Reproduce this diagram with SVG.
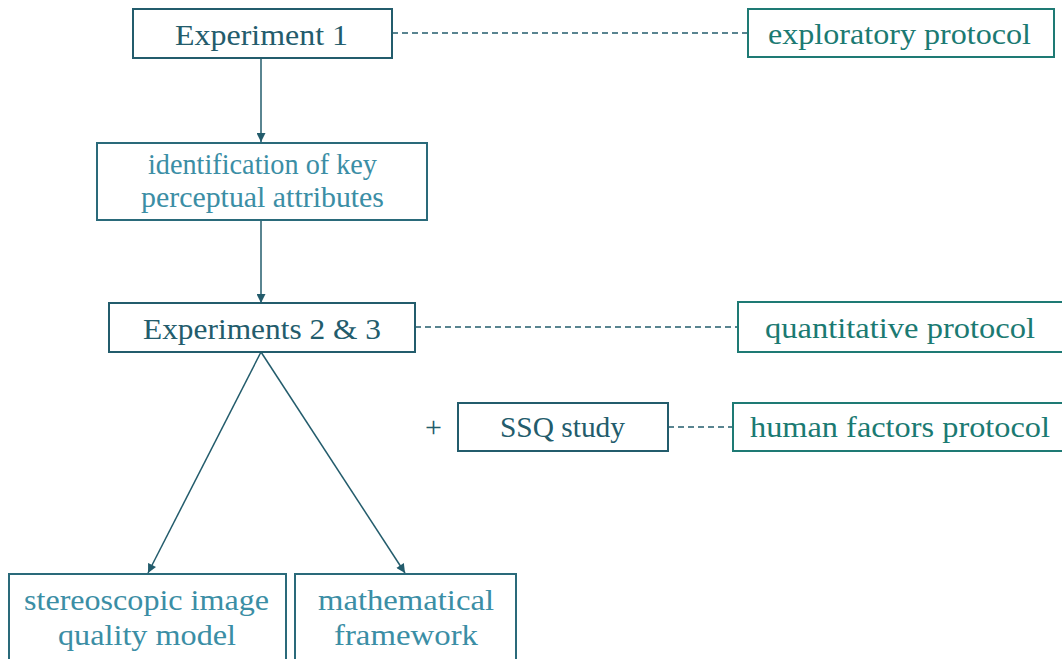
<svg xmlns="http://www.w3.org/2000/svg" width="1062" height="659" viewBox="0 0 1062 659">
<style>
text{font-family:"Liberation Serif","Times New Roman",serif;font-size:30px;text-anchor:middle}
.main rect{fill:#fff;stroke:#235C6C;stroke-width:2}
.main text{fill:#235C6C}
.light rect{fill:#fff;stroke:#2A6A7A;stroke-width:2}
.light text{fill:#3B8EA5}
.proto rect{fill:#fff;stroke:#1E7A74;stroke-width:2}
.proto text{fill:#1B7A72}
.conn line{stroke:#235C6C;stroke-width:1.5;fill:none}
.conn .dash{stroke-dasharray:6 4}
</style>
<defs>
<marker id="ah" viewBox="0 0 10 10" refX="10" refY="5" markerWidth="10" markerHeight="9" markerUnits="userSpaceOnUse" orient="auto">
<path d="M0,0 L10,5 L0,10 z" fill="#235C6C"/>
</marker>
</defs>
<rect width="1062" height="659" fill="#fff"/>
<g id="connectors" class="conn">
<line class="dash" x1="392" y1="33" x2="748" y2="33"/>
<line x1="261" y1="58" x2="261" y2="142" marker-end="url(#ah)"/>
<line x1="261" y1="221" x2="261" y2="303" marker-end="url(#ah)"/>
<line class="dash" x1="415" y1="327" x2="738" y2="327"/>
<line class="dash" x1="668" y1="427" x2="733" y2="427"/>
<line x1="261" y1="352" x2="148" y2="573" marker-end="url(#ah)"/>
<line x1="261" y1="352" x2="405" y2="573" marker-end="url(#ah)"/>
</g>
<g id="exp1" class="main">
<rect x="133" y="9" width="259" height="49"/>
<text x="261.5" y="45" textLength="173" lengthAdjust="spacingAndGlyphs">Experiment 1</text>
</g>
<g id="exploratory" class="proto">
<rect x="748" y="9" width="306" height="48"/>
<text x="899.5" y="44" textLength="263" lengthAdjust="spacingAndGlyphs">exploratory protocol</text>
</g>
<g id="identification" class="light">
<rect x="97" y="143" width="330" height="77"/>
<text x="262.5" y="174" textLength="229" lengthAdjust="spacingAndGlyphs">identification of key</text>
<text x="262.5" y="207" textLength="243" lengthAdjust="spacingAndGlyphs">perceptual attributes</text>
</g>
<g id="exp23" class="main">
<rect x="109" y="303" width="306" height="49"/>
<text x="262" y="339" textLength="238" lengthAdjust="spacingAndGlyphs">Experiments 2 &amp; 3</text>
</g>
<g id="quantitative" class="proto">
<rect x="738" y="302" width="330" height="50"/>
<text x="900" y="338" textLength="270" lengthAdjust="spacingAndGlyphs">quantitative protocol</text>
</g>
<g id="plus" class="main">
<text x="433.5" y="437">+</text>
</g>
<g id="ssq" class="main">
<rect x="458" y="403" width="210" height="48"/>
<text x="562.5" y="437" textLength="125" lengthAdjust="spacingAndGlyphs">SSQ study</text>
</g>
<g id="humanfactors" class="proto">
<rect x="733" y="403" width="335" height="48"/>
<text x="900" y="437" textLength="300" lengthAdjust="spacingAndGlyphs">human factors protocol</text>
</g>
<g id="stereo" class="light">
<rect x="9" y="574" width="277" height="100"/>
<text x="146.5" y="610" textLength="245" lengthAdjust="spacingAndGlyphs">stereoscopic image</text>
<text x="147" y="645" textLength="178" lengthAdjust="spacingAndGlyphs">quality model</text>
</g>
<g id="math" class="light">
<rect x="295" y="574" width="221" height="100"/>
<text x="406" y="610" textLength="176" lengthAdjust="spacingAndGlyphs">mathematical</text>
<text x="406" y="645" textLength="144" lengthAdjust="spacingAndGlyphs">framework</text>
</g>
</svg>
